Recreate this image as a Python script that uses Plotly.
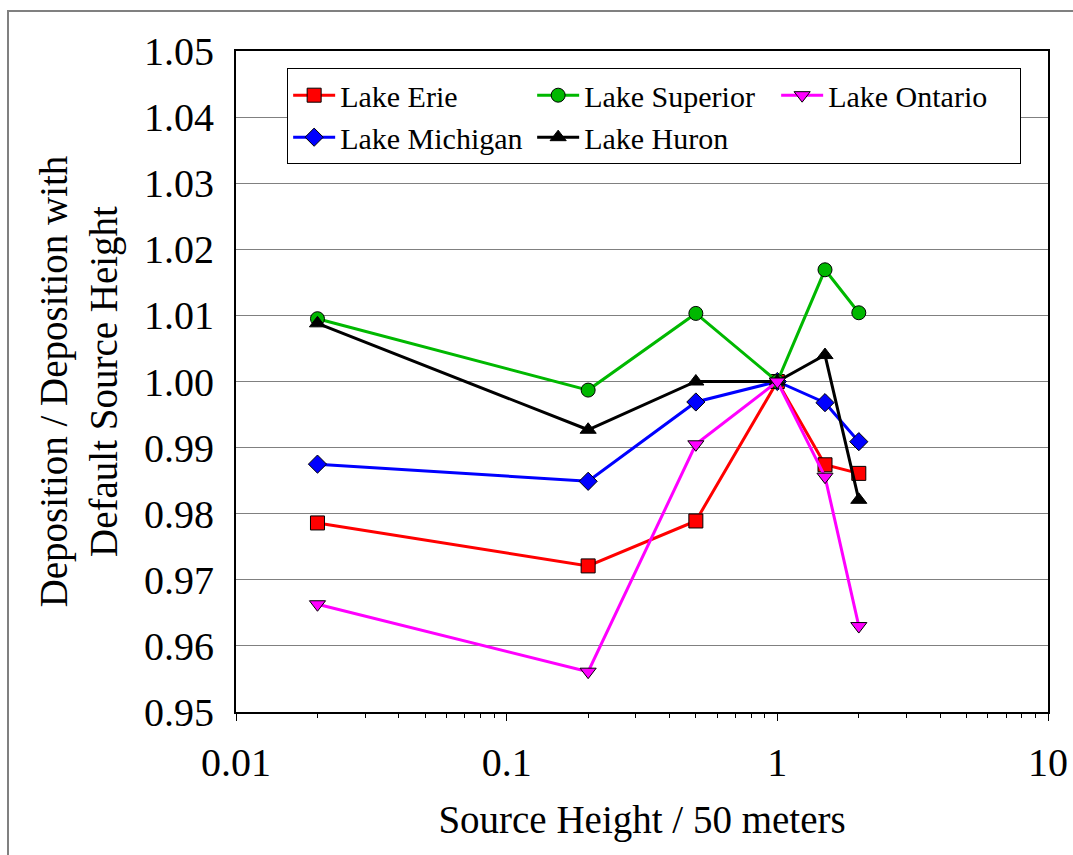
import plotly.graph_objects as go

# Source height relative to the 50 m default
source_height = [0.02, 0.2, 0.5, 1, 1.5, 2]

# Deposition ratio relative to the default source height
lake_erie = [0.9786, 0.9721, 0.9789, 1.000, 0.9874, 0.9861]
lake_michigan = [0.9875, 0.9849, 0.9969, 1.000, 0.9968, 0.9909]
lake_superior = [1.0095, 0.9987, 1.0103, 1.000, 1.0169, 1.0104]
lake_huron = [1.0088, 0.9927, 1.000, 1.000, 1.0040, 0.9821]
lake_ontario = [0.9663, 0.9561, 0.9905, 1.000, 0.9856, 0.9630]

y_ticks = [0.95, 0.96, 0.97, 0.98, 0.99, 1.00, 1.01, 1.02, 1.03, 1.04, 1.05]
x_ticks = [0.01, 0.1, 1, 10]
x_tick_labels = ["0.01", "0.1", "1", "10"]
x_minor_ticks = [m * d for d in (0.01, 0.1, 1) for m in range(2, 10)]

FONT = "Liberation Serif, Times New Roman, serif"

series = [
    ("Lake Erie", lake_erie, "#FF0000", "square", 1),
    ("Lake Michigan", lake_michigan, "#0000FF", "diamond", 4),
    ("Lake Superior", lake_superior, "#00B800", "circle", 2),
    ("Lake Huron", lake_huron, "#000000", "triangle-up", 5),
    ("Lake Ontario", lake_ontario, "#FF00FF", "triangle-down", 3),
]

fig = go.Figure()
for name, vals, color, symbol, rank in series:
    fig.add_trace(go.Scatter(
        x=source_height, y=vals, name=name, mode="lines+markers",
        line=dict(color=color, width=3),
        marker=dict(symbol=symbol, size=14, color=color,
                    line=dict(color="#000000", width=1)),
        legendrank=rank,
    ))

fig.update_layout(
    width=1073, height=855,
    margin=dict(l=236, r=25, t=51, b=143),
    paper_bgcolor="white", plot_bgcolor="white",
    font=dict(family=FONT, size=39, color="black"),
    showlegend=True,
    legend=dict(
        orientation="h", x=0.063, y=0.974, xanchor="left", yanchor="top",
        bgcolor="white", bordercolor="black", borderwidth=1,
        font=dict(family=FONT, size=30), entrywidth=187,
        tracegroupgap=0, itemwidth=42,
    ),
    xaxis=dict(
        type="log", range=[-2, 1], tickvals=x_ticks, ticktext=x_tick_labels,
        automargin=False,
        showgrid=False, showline=True, linecolor="black", linewidth=2,
        mirror=True, ticks="outside", ticklen=7, tickcolor="black",
        ticklabelstandoff=7,
        minor=dict(tickvals=x_minor_ticks, ticks="outside", ticklen=4,
                   tickcolor="black", showgrid=False),
        title=dict(text="Source Height / 50 meters", standoff=22,
                   font=dict(size=39)),
        tickfont=dict(size=40),
    ),
    yaxis=dict(
        range=[0.95, 1.05], tickvals=y_ticks, tickformat=".2f",
        automargin=False,
        showgrid=True, gridcolor="#808080", gridwidth=1,
        showline=True, linecolor="black", linewidth=2, mirror=True,
        ticks="", zeroline=False, ticklabelstandoff=12,
        title=dict(text="Deposition / Deposition with<br>Default Source Height",
                   standoff=14, font=dict(size=39)),
        tickfont=dict(size=40),
    ),
    shapes=[dict(
        type="rect", xref="paper", yref="paper",
        x0=(8 - 236) / 812, x1=1.2, y0=-0.5, y1=(712 - 11) / 661,
        line=dict(color="#808080", width=2), fillcolor="rgba(0,0,0,0)",
        layer="below",
    )],
)

fig.write_html("out.html")
